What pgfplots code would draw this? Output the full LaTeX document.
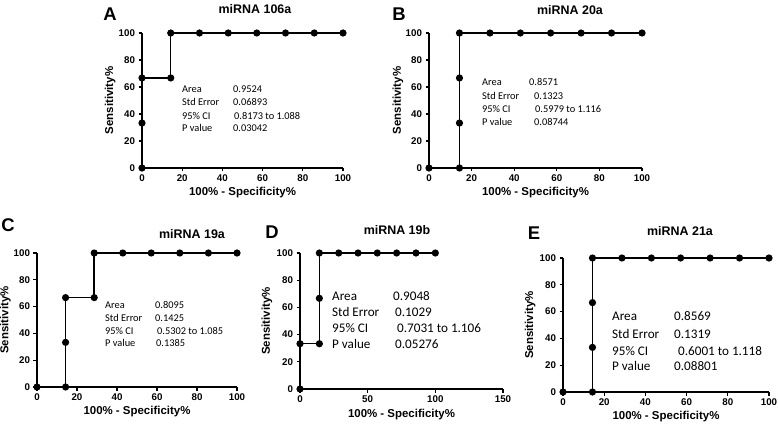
\documentclass[border=0pt]{standalone}
\usepackage{fontspec}
\setmainfont{Liberation Sans}
\newfontfamily\calib{Carlito}
\usepackage{pgfplots}
\pgfplotsset{compat=1.18}
\pgfplotsset{rocstyle/.style={
  scale only axis, anchor=south west,
  xmin=0, xmax=100, ymin=0, ymax=100,
  axis lines*=left, axis line style={line width=1.5bp, black},
  tick align=outside, major tick length=3.5bp,
  tick style={line width=1.2bp, black},
  xtick={0,20,...,100}, ytick={0,20,...,100},
  clip=false,
  /pgf/number format/assume math mode=true,
  tick label style={font=\fontsize{9.8}{10}\selectfont\bfseries},
  label style={font=\fontsize{11.5}{12}\selectfont\bfseries},
  xlabel={100\% - Specificity\%}, ylabel={Sensitivity\%},
  xlabel style={at={(axis description cs:0.5,-0.185)}, anchor=center},
  ylabel style={at={(axis description cs:-0.158,0.5)}, anchor=center},
}}
\tikzset{roc/.style={black, line width=1.5bp, mark=*, mark size=2.8bp, mark options={solid, fill=black}},
  ann/.style={anchor=mid west, inner sep=0pt, font=\calib\fontsize{10.4}{11}\selectfont},
  annL/.style={anchor=mid west, inner sep=0pt, font=\calib\fontsize{13.2}{14}\selectfont},
  ttl/.style={font=\fontsize{12.5}{13}\selectfont\bfseries, inner sep=0pt},
  lett/.style={font=\fontsize{18.5}{19}\selectfont\bfseries, inner sep=0pt}}
\begin{document}
\begin{tikzpicture}[x=1bp,y=1bp]
\path[use as bounding box] (0,0) rectangle (778,424);
% A
\begin{axis}[rocstyle, at={(142bp,256bp)}, width=201bp, height=135bp]
\addplot[roc] coordinates {(0,0) (0,33.3) (0,66.7) (14.3,66.7) (14.3,100) (28.6,100) (42.9,100) (57.1,100) (71.4,100) (85.7,100) (100,100)};
\end{axis}
% B
\begin{axis}[rocstyle, at={(429bp,256bp)}, width=213bp, height=135bp,
  ylabel style={at={(axis description cs:-0.146,0.5)}}]
\addplot[roc] coordinates {(0,0) (14.3,0) (14.3,33.3) (14.3,66.7) (14.3,100) (28.6,100) (42.9,100) (57.1,100) (71.4,100) (85.7,100) (100,100)};
\end{axis}
% C
\begin{axis}[rocstyle, at={(37bp,37bp)}, width=200bp, height=134bp]
\addplot[roc] coordinates {(0,0) (14.3,0) (14.3,33.3) (14.3,66.7) (28.6,66.7) (28.6,100) (42.9,100) (57.1,100) (71.4,100) (85.7,100) (100,100)};
\end{axis}
% D
\begin{axis}[rocstyle, at={(300bp,35bp)}, width=203bp, height=136bp, xmax=150, xtick={0,50,100,150},
  ylabel style={at={(axis description cs:-0.163,0.5)}}]
\addplot[roc] coordinates {(0,0) (0,33.3) (14.3,33.3) (14.3,66.7) (14.3,100) (28.6,100) (42.9,100) (57.1,100) (71.4,100) (85.7,100) (100,100)};
\end{axis}
% E
\begin{axis}[rocstyle, at={(563bp,32bp)}, width=206bp, height=134bp,
  ylabel style={at={(axis description cs:-0.16,0.5)}}]
\addplot[roc] coordinates {(0,0) (14.3,0) (14.3,33.3) (14.3,66.7) (14.3,100) (28.6,100) (42.9,100) (57.1,100) (71.4,100) (85.7,100) (100,100)};
\end{axis}
% letters and titles
\node[lett] at (110,410) {A};
\node[lett] at (399,410) {B};
\node[lett] at (8,199) {C};
\node[lett] at (272,192) {D};
\node[lett] at (534,191) {E};
\node[ttl] at (255,415) {miRNA 106a};
\node[ttl] at (570,414) {miRNA 20a};
\node[ttl] at (192,190) {miRNA 19a};
\node[ttl] at (397,194) {miRNA 19b};
\node[ttl] at (680,193) {miRNA 21a};
% annotations A
\node[ann] at (182,334) {Area};
\node[ann] at (182,321) {Std Error};
\node[ann] at (182,307) {95\% CI};
\node[ann] at (182,295) {P value};
\node[ann] at (233,334) {0.9524};
\node[ann] at (233,321) {0.06893};
\node[ann] at (234,307) {0.8173 to 1.088};
\node[ann] at (233,295) {0.03042};
% annotations B
\node[ann] at (482,341) {Area};
\node[ann] at (482,327) {Std Error};
\node[ann] at (482,314) {95\% CI};
\node[ann] at (482,301) {P value};
\node[ann] at (529,341) {0.8571};
\node[ann] at (534,327) {0.1323};
\node[ann] at (535,314) {0.5979 to 1.116};
\node[ann] at (534,301) {0.08744};
% annotations C
\node[ann] at (105,118) {Area};
\node[ann] at (105,105) {Std Error};
\node[ann] at (105,92) {95\% CI};
\node[ann] at (105,80) {P value};
\node[ann] at (155,118) {0.8095};
\node[ann] at (155,105) {0.1425};
\node[ann] at (157,92) {0.5302 to 1.085};
\node[ann] at (156,80) {0.1385};
% annotations D
\node[annL] at (332,126) {Area};
\node[annL] at (332,110) {Std Error};
\node[annL] at (332,94) {95\% CI};
\node[annL] at (332,78) {P value};
\node[annL] at (393,126) {0.9048};
\node[annL] at (395,110) {0.1029};
\node[annL] at (397,94) {0.7031 to 1.106};
\node[annL] at (395,78) {0.05276};
% annotations E
\node[annL] at (612,106) {Area};
\node[annL] at (612,88) {Std Error};
\node[annL] at (612,71) {95\% CI};
\node[annL] at (612,56) {P value};
\node[annL] at (674,106) {0.8569};
\node[annL] at (674,88) {0.1319};
\node[annL] at (678,71) {0.6001 to 1.118};
\node[annL] at (674,56) {0.08801};
\end{tikzpicture}
\end{document}
